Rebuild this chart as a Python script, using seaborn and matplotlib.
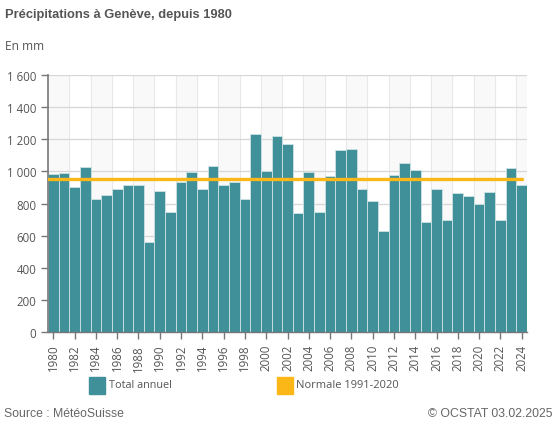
import numpy as np
import pandas as pd
import matplotlib
matplotlib.use("Agg")
import matplotlib.pyplot as plt
import seaborn as sns

# -- data --
years = list(range(1980, 2025))
total = [982, 988, 903, 1025, 830, 853, 890, 915, 915, 558,
         878, 749, 932, 996, 890, 1032, 915, 932, 830, 1235,
         1000, 1222, 1168, 743, 996, 749, 971, 1131, 1137, 890,
         818, 627, 977, 1050, 1007, 687, 890, 699, 865, 849,
         799, 872, 699, 1019, 915]
normale = 950
yticks = [0, 200, 400, 600, 800, 1000, 1200, 1400, 1600]
ytick_labels = ["0", "200", "400", "600", "800", "1 000", "1 200", "1 400", "1 600"]

teal = "#3f9099"
orange = "#fbb617"
grey_txt = "#555555"

df = pd.DataFrame({"annee": [str(y) for y in years], "total": total})

sns.set_style("white")
plt.rcParams['font.family'] = ['Open Sans', 'DejaVu Sans']

fig = plt.figure(figsize=(5.57, 4.27), dpi=100)
ax = fig.add_axes([48 / 557, 94 / 427, 479 / 557, 257 / 427])

# alternating background bands, every 2 years
for k in range(0, len(years), 4):
    ax.axvspan(k - 0.5, min(k + 1.5, len(years) - 0.5), color="#f9f9f9", zorder=0, lw=0)
for k in range(1, len(years) - 1, 2):
    ax.axvline(k + 0.5, color="#e8e8e8", lw=0.8, zorder=0.5)
for t in yticks[1:]:
    ax.axhline(t, color="#d6d6d6", lw=0.9, zorder=0.5)

sns.barplot(data=df, x="annee", y="total", color=teal, saturation=1,
            width=1.0, edgecolor="#cfe3e5", linewidth=0.6, ax=ax, zorder=2)
ax.plot([-0.5, len(years) - 1], [normale, normale], color=orange, lw=2.4, zorder=3)

ax.set_xlim(-0.5, len(years) - 0.5)
ax.set_ylim(0, 1600)
ax.set_yticks(yticks)
ax.set_yticklabels(ytick_labels)
ax.set_xticks(range(0, len(years), 2))
ax.set_xticklabels([str(y) for y in years[::2]], rotation=90)
ax.set_xlabel("")
ax.set_ylabel("")
for s in ["top", "right"]:
    ax.spines[s].set_visible(False)
ax.spines["left"].set_color("#777777")
ax.spines["left"].set_linewidth(1.2)
ax.spines["bottom"].set_color("#777777")
ax.spines["bottom"].set_linewidth(1.0)
ax.tick_params(axis="both", colors="#777777", labelcolor=grey_txt, labelsize=8.3,
               length=5, width=1, left=True, bottom=True, direction="out")

# title, units, legend, footer
fig.text(5 / 557, 1 - 15 / 427, "Précipitations à Genève, depuis 1980", fontsize=9.3,
         fontweight="bold", color=grey_txt, family="Liberation Sans", va="center")
fig.text(5 / 557, 1 - 47 / 427, "En mm", fontsize=8.6, color=grey_txt, va="center")

fig.patches.append(plt.Rectangle((89 / 557, 1 - 395 / 427), 16 / 557, 17 / 427,
                                 transform=fig.transFigure, color=teal, figure=fig))
fig.text(109 / 557, 1 - 386 / 427, "Total annuel", fontsize=7.8, color=grey_txt, va="center")
fig.patches.append(plt.Rectangle((277 / 557, 1 - 395 / 427), 16 / 557, 17 / 427,
                                 transform=fig.transFigure, color=orange, figure=fig))
fig.text(296 / 557, 1 - 386 / 427, "Normale 1991-2020", fontsize=8.0, color=grey_txt, va="center")

fig.text(4 / 557, 1 - 414 / 427, "Source : MétéoSuisse", fontsize=8.8, color="#666666",
         family="Liberation Sans", va="center")
fig.text(553 / 557, 1 - 414 / 427, "© OCSTAT 03.02.2025", fontsize=8.8, color="#666666",
         family="Liberation Sans", va="center", ha="right")

fig.savefig("out.png", dpi=100)
